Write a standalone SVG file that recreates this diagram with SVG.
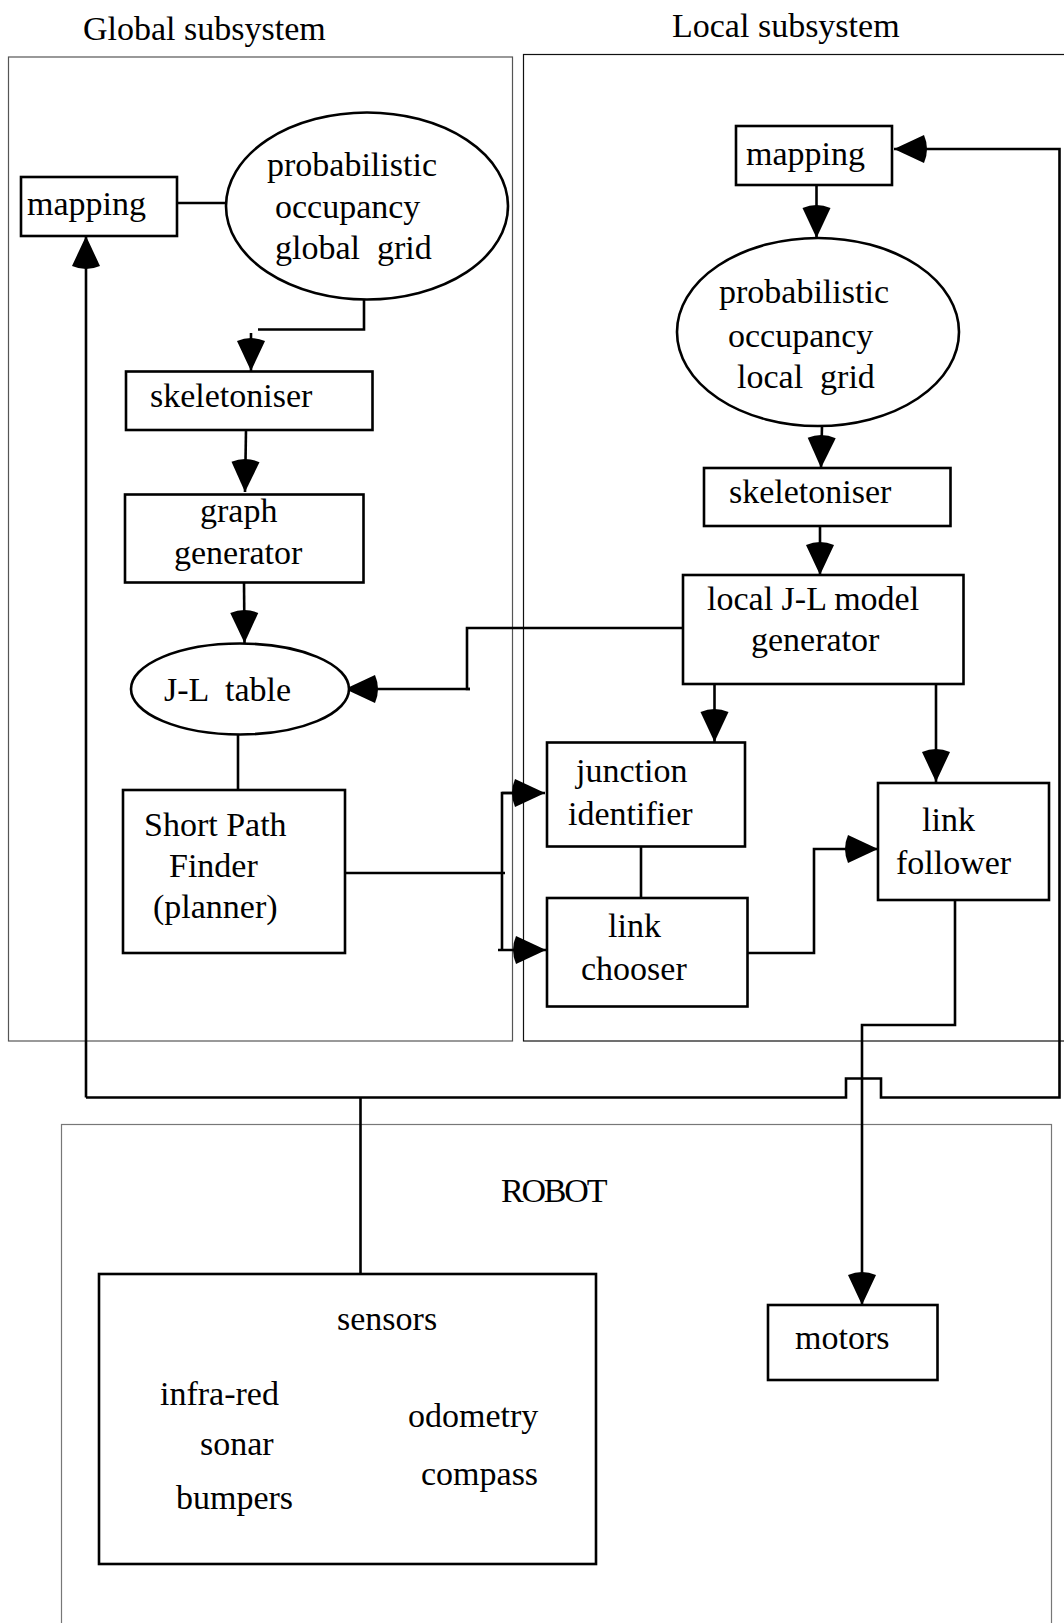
<svg xmlns="http://www.w3.org/2000/svg" width="1064" height="1623" viewBox="0 0 1064 1623">
  <style>
    text { font-family: "Liberation Serif", "Times New Roman", serif; font-size: 34px; fill: #000; }
    .node { fill: #fff; stroke: #000; stroke-width: 2.6; }
    .frame { fill: none; stroke-width: 1.2; }
    .wire { fill: none; stroke: #000; stroke-width: 2.6; }
    .arrow { marker-end: url(#head); }
  </style>
  <defs>
    <marker id="head" markerUnits="userSpaceOnUse" viewBox="-37 -16 38 32" refX="0" refY="0" markerWidth="38" markerHeight="32" orient="auto">
      <path d="M0,0 L-30,-14 Q-36,0 -30,14 Z" fill="#000"/>
    </marker>
  </defs>
  <rect width="1064" height="1623" fill="#fff"/>

  <!-- subsystem frames -->
  <g id="global-subsystem">
    <rect class="frame" x="8.5" y="57" width="504" height="984" stroke="#555"/>
    <text x="83" y="40">Global subsystem</text>
  </g>
  <g id="local-subsystem">
    <rect class="frame" x="523.5" y="54.5" width="600" height="986.5" stroke="#111"/>
    <text x="672" y="37">Local subsystem</text>
  </g>
  <g id="robot">
    <rect class="frame" x="61.5" y="1124.5" width="990" height="600" stroke="#777" stroke-width="1.6"/>
    <text x="501" y="1202" font-size="32" letter-spacing="-2.2">ROBOT</text>
  </g>

  <!-- connectors -->
  <g id="connectors">
    <path class="wire" d="M177,203 H233"/>
    <path class="wire" d="M364,299 V329.5 H258"/>
    <path class="wire arrow" d="M251,333 V371"/>
    <path class="wire arrow" d="M246,430 L245,492"/>
    <path class="wire arrow" d="M244,582 L244.5,643"/>
    <path class="wire" d="M683,628 H467 V689 H470"/>
    <path class="wire arrow" d="M470,689 H345"/>
    <path class="wire" d="M238,735 V790"/>
    <path class="wire" d="M345,873 H505"/>
    <path class="wire" d="M513,793 H502 V950"/>
    <path class="wire arrow" d="M502,793 H545"/>
    <path class="wire arrow" d="M498,950 H546"/>
    <path class="wire arrow" d="M816.5,185 V238"/>
    <path class="wire arrow" d="M822,426 L821,468"/>
    <path class="wire arrow" d="M820,526 V575"/>
    <path class="wire arrow" d="M714.5,680 V742"/>
    <path class="wire arrow" d="M936,684 V782"/>
    <path class="wire" d="M641,846 V898"/>
    <path class="wire arrow" d="M747,953 H814 V849 H878"/>
    <path class="wire arrow" d="M955,900 V1025 H862 V1305"/>
    <path class="wire arrow" d="M86,1097.5 H846 V1078.5 H881 V1097.5 H1059.5 V149 H894"/>
    <path class="wire arrow" d="M86,1097.5 V236"/>
    <path class="wire" d="M360.5,1097.5 V1274"/>
  </g>

  <!-- global subsystem nodes -->
  <g id="g-mapping">
    <rect class="node" x="21" y="177" width="156" height="59"/>
    <text x="27" y="215">mapping</text>
  </g>
  <g id="g-grid">
    <ellipse class="node" cx="367" cy="206" rx="141" ry="93.5"/>
    <text x="267" y="176">probabilistic</text>
    <text x="275" y="218">occupancy</text>
    <text x="275" y="259" xml:space="preserve">global  grid</text>
  </g>
  <g id="g-skeletoniser">
    <rect class="node" x="126" y="371.5" width="246.5" height="58.5"/>
    <text x="150" y="407">skeletoniser</text>
  </g>
  <g id="graph-generator">
    <rect class="node" x="125" y="494.5" width="238.5" height="88"/>
    <text x="200" y="522">graph</text>
    <text x="174" y="564">generator</text>
  </g>
  <g id="jl-table">
    <ellipse class="node" cx="240" cy="689" rx="109" ry="45.5"/>
    <text x="164" y="701" xml:space="preserve">J-L  table</text>
  </g>
  <g id="short-path-finder">
    <rect class="node" x="123" y="790" width="222" height="163"/>
    <text x="144" y="836">Short Path</text>
    <text x="169" y="877">Finder</text>
    <text x="153" y="918">(planner)</text>
  </g>

  <!-- local subsystem nodes -->
  <g id="l-mapping">
    <rect class="node" x="736" y="126" width="156" height="59"/>
    <text x="746" y="165">mapping</text>
  </g>
  <g id="l-grid">
    <ellipse class="node" cx="818" cy="332" rx="141" ry="94"/>
    <text x="719" y="303">probabilistic</text>
    <text x="728" y="347">occupancy</text>
    <text x="737" y="388" xml:space="preserve">local  grid</text>
  </g>
  <g id="l-skeletoniser">
    <rect class="node" x="704" y="468" width="246.5" height="58"/>
    <text x="729" y="503">skeletoniser</text>
  </g>
  <g id="jl-model-generator">
    <rect class="node" x="683" y="575" width="280.5" height="109"/>
    <text x="707" y="610">local J-L model</text>
    <text x="751" y="651">generator</text>
  </g>
  <g id="junction-identifier">
    <rect class="node" x="547" y="742.5" width="198" height="104"/>
    <text x="576" y="782">junction</text>
    <text x="568" y="825">identifier</text>
  </g>
  <g id="link-chooser">
    <rect class="node" x="547" y="898" width="200.5" height="108.5"/>
    <text x="608" y="937">link</text>
    <text x="581" y="980">chooser</text>
  </g>
  <g id="link-follower">
    <rect class="node" x="878" y="783" width="171" height="117"/>
    <text x="922" y="831">link</text>
    <text x="896" y="874">follower</text>
  </g>

  <!-- robot nodes -->
  <g id="sensors">
    <rect class="node" x="99" y="1274" width="497" height="290" stroke-width="3"/>
    <text x="337" y="1330">sensors</text>
    <text x="160" y="1405">infra-red</text>
    <text x="200" y="1455">sonar</text>
    <text x="176" y="1509">bumpers</text>
    <text x="408" y="1427">odometry</text>
    <text x="421" y="1485">compass</text>
  </g>
  <g id="motors">
    <rect class="node" x="768" y="1305" width="169.5" height="75"/>
    <text x="795" y="1349">motors</text>
  </g>
</svg>
